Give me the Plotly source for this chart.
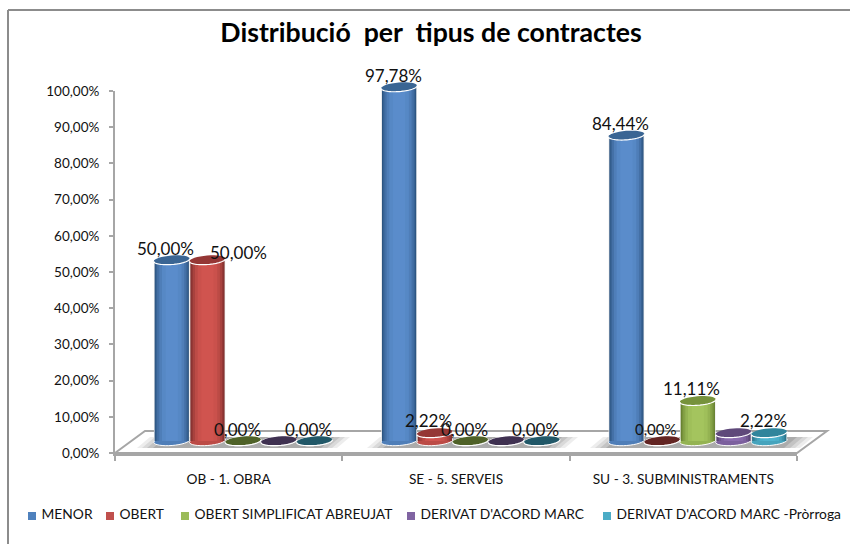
import math
import plotly.graph_objects as go

W, H = 850, 544
categories = ["OB - 1. OBRA", "SE - 5. SERVEIS", "SU - 3. SUBMINISTRAMENTS"]
series_names = ["MENOR", "OBERT", "OBERT SIMPLIFICAT ABREUJAT", "DERIVAT D'ACORD MARC", "DERIVAT D'ACORD MARC -Pròrroga"]
menor = [50.00, 97.78, 84.44]
obert = [50.00, 2.22, 0.00]
simplificat = [0.00, 0.00, 11.11]
derivat = [0.00, 0.00, 2.22]
prorroga = [0.00, 0.00, 2.22]
series_values = [menor, obert, simplificat, derivat, prorroga]
y_ticks = list(range(0, 101, 10))
y_tick_labels = [f"{v},00%" for v in y_ticks]
# the purple series carries no data labels in the original
label_hidden = {3}

body_mid = ["#5a8ccb", "#d0544f", "#a4c45e", "#8a6bae", "#4fb4cf"]
body_edge = ["#2d5581", "#7f2f2d", "#66802f", "#54406f", "#2a7288"]
top_col = ["#3a6593", "#953735", "#76923c", "#5f497a", "#31859c"]
zero_col = ["#244061", "#632523", "#4f6228", "#3f3151", "#215868"]
legend_col = ["#4f81bd", "#c0504d", "#9bbb59", "#8064a2", "#4bacc6"]

GREY = "#a6a6a6"
FONT = "Lato"
L, R, T, B = 115, 797, 91, 453
BAR_TOP = 50  # pixel top of the bar subplot, which reaches above the 100 % mark
BAR_FLOOR = 441  # pixel row of the zero line of the bars
px_per_cat = (R - L) / 3
px_per_val = (B - T) / 100
SHIFT_X = 14.5 / px_per_cat
STRIDE = 35.7 / px_per_cat
DOM_X = [L / W, R / W]
DOM_Y = [1 - B / H, 1 - T / H]
BAR_DOM_Y = [1 - B / H, 1 - BAR_TOP / H]
BAR_RANGE_Y = [-(B - BAR_FLOOR) / px_per_val, (BAR_FLOOR - BAR_TOP) / px_per_val]
TILT = math.radians(4.5)
RX, RY = 18, 4.5


def hex2rgb(c):
    return [int(c[i:i + 2], 16) for i in (1, 3, 5)]


def mix(a, b, t):
    ra, rb = hex2rgb(a), hex2rgb(b)
    return "rgb(%d,%d,%d)" % tuple(round(p + (q - p) * t) for p, q in zip(ra, rb))


def pt(x, y):
    return x / W, 1 - y / H


def poly(points, fill, opacity=1.0, line=None, lw=0):
    d = []
    for i, (x, y) in enumerate(points):
        u, v = pt(x, y)
        d.append(("M" if i == 0 else "L") + f"{u:.5f},{v:.5f}")
    return dict(type="path", path=" ".join(d) + " Z", xref="paper", yref="paper", layer="below",
                fillcolor=fill, opacity=opacity, line=dict(color=line or fill, width=lw))


def ellipse_path(a0, a1, closed):
    n = 32
    d = []
    for i in range(n + 1):
        a = math.radians(a0 + (a1 - a0) * i / n)
        ex, ey = RX * math.cos(a), RY * math.sin(a)
        px = ex * math.cos(TILT) - ey * math.sin(TILT)
        py = ex * math.sin(TILT) + ey * math.cos(TILT)
        d.append(("M" if i == 0 else "L") + f"{px:.2f},{py:.2f}")
    return " ".join(d) + (" Z" if closed else "")


ELLIPSE = ellipse_path(0, 360, True)
LOWER_RIM = ellipse_path(180, 360, False)

fig = go.Figure()
shapes = []
annotations = []

# chart frame: left and top edges only
for x0, y0, x1, y1 in [(8, 10, 8, 544), (8, 10, 850, 10)]:
    u0, v0 = pt(x0, y0)
    u1, v1 = pt(x1, y1)
    shapes.append(dict(type="line", xref="paper", yref="paper", layer="below", x0=u0, y0=v0, x1=u1, y1=v1,
                       line=dict(color="#8c8c8c", width=2)))

# 3-D floor
shapes.append(poly([(115, 453), (145, 431), (827, 431), (797, 453)], "#ffffff", line=GREY, lw=2))
for x_a, x_b in [(137, 350), (367, 578), (590, 813)]:
    for inset, op in [(0, 0.14), (5, 0.18), (10, 0.24), (16, 0.34)]:
        shapes.append(poly([(x_a + inset, 448), (x_a + 13 + inset, 437), (x_b - inset, 437), (x_b - 13 - inset, 448)],
                           "#7f7f7f", opacity=op))

# invisible trace so the visible category / value axes are drawn
fig.add_trace(go.Scatter(x=[0, 1, 2], y=menor, xaxis="x", yaxis="y", mode="markers", showlegend=False,
                         hoverinfo="skip", marker=dict(opacity=0)))

# cylinder bodies: nested bars make the round shading, the widest one is the pale rim
steps = [(1.00, None), (0.96, 0.0), (0.90, 0.25), (0.82, 0.5), (0.70, 0.75), (0.55, 0.92), (0.34, 1.0)]
for s, (name, vals) in enumerate(zip(series_names, series_values)):
    xs = [g + (s - 2) * STRIDE for g in range(len(categories))]
    for w, t in steps:
        color = "#ececec" if t is None else mix(body_edge[s], body_mid[s], t)
        fig.add_trace(go.Bar(x=xs, y=vals, width=STRIDE * w, xaxis="x2", yaxis="y2", name=name,
                             showlegend=False, hoverinfo="skip",
                             marker=dict(color=color, line=dict(width=0))))
    for g, v in enumerate(vals):
        flat = v == 0
        common = dict(type="path", xref="x2", yref="y2", xsizemode="pixel", ysizemode="pixel", xanchor=xs[g])
        shapes.append(dict(common, path=ELLIPSE, yanchor=0, layer="between",
                           fillcolor=mix(body_edge[s], body_mid[s], 0.75), line=dict(color="#ffffff", width=1)))
        shapes.append(dict(common, path=ELLIPSE, yanchor=v, layer="above",
                           fillcolor=zero_col[s] if flat else top_col[s], line=dict(width=0)))
        shapes.append(dict(common, path=LOWER_RIM, yanchor=v, layer="above", fillcolor="rgba(0,0,0,0)",
                           line=dict(color="#ffffff", width=1.2)))
        if s in label_hidden:
            continue
        moved = s == 1 and g == 0
        small = s == 1 and g == 2
        annotations.append(dict(x=xs[g], y=v, xref="x2", yref="y2", showarrow=False,
                                text=f"{v:.2f}".replace(".", ",") + "%",
                                xshift=31 if moved else -6, yshift=8 if moved else 12,
                                xanchor="center", yanchor="middle",
                                font=dict(family=FONT, size=15 if small else 17, color="#111111")))

# legend row on a page-sized hidden axis pair
legend_x = [32, 110, 185, 411, 607]
for s, name in enumerate(series_names):
    fig.add_trace(go.Scatter(x=[legend_x[s]], y=[516], xaxis="x3", yaxis="y3", mode="markers+text",
                             text=[" " + name], textposition="middle right", name=name, showlegend=False,
                             hoverinfo="skip", cliponaxis=False,
                             marker=dict(symbol="square", size=8, color=legend_col[s]),
                             textfont=dict(family=FONT, size=13.8, color="#111111")))

fig.update_layout(
    width=W, height=H, margin=dict(l=0, r=0, t=0, b=0, autoexpand=False), autosize=False,
    paper_bgcolor="#ffffff", plot_bgcolor="rgba(0,0,0,0)", barmode="overlay", showlegend=False,
    title=dict(text="Distribució  per  tipus de contractes", x=431 / W, y=1 - 33 / H, xanchor="center",
               yanchor="middle", font=dict(family=FONT, size=26.7, color="#000000", weight="bold")),
    xaxis=dict(domain=DOM_X, range=[-0.5, 2.5], tickmode="array", tickvals=[0, 1, 2], ticktext=categories,
               ticks="", showgrid=False, zeroline=False, showline=True, linecolor=GREY, linewidth=2.5,
               tickfont=dict(family=FONT, size=13.7, color="#111111"), ticklabelstandoff=12,
               minor=dict(tickmode="array", tickvals=[-0.5, 0.5, 1.5, 2.5], ticks="outside", ticklen=5,
                          tickcolor=GREY, tickwidth=1.5, showgrid=False)),
    yaxis=dict(domain=DOM_Y, range=[0, 100], tickmode="array", tickvals=y_ticks,
               ticktext=y_tick_labels, ticks="outside", ticklen=4, tickcolor=GREY, tickwidth=1.5,
               showgrid=False, zeroline=False, showline=True, linecolor=GREY, linewidth=2,
               ticklabelstandoff=7, tickfont=dict(family=FONT, size=13.5, color="#111111")),
    xaxis2=dict(domain=DOM_X, anchor="y2", range=[-0.5 - SHIFT_X, 2.5 - SHIFT_X], visible=False),
    yaxis2=dict(domain=BAR_DOM_Y, anchor="x2", range=BAR_RANGE_Y, visible=False),
    xaxis3=dict(domain=[0, 1], range=[0, W], visible=False, anchor="y3"),
    yaxis3=dict(domain=[0, 1], range=[H, 0], visible=False, anchor="x3"),
    shapes=shapes, annotations=annotations,
)

fig.write_html("out.html", config=dict(displayModeBar=False),
               post_script="document.body.style.margin='0';document.documentElement.style.overflow='hidden';")
